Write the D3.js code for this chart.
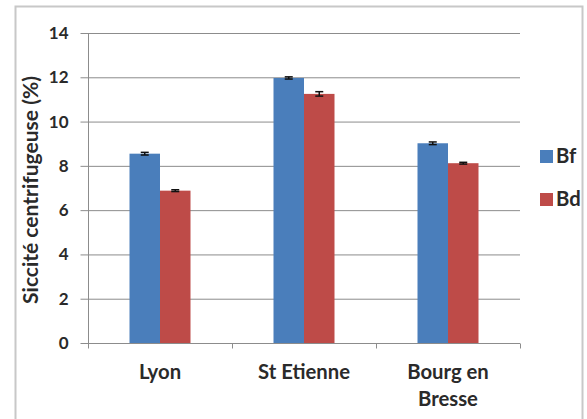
<!DOCTYPE html>
<html><head><meta charset="utf-8">
<script src="https://cdn.jsdelivr.net/npm/d3@7"></script>
<style>body{margin:0;background:#fff}svg{display:block}</style>
</head><body>
<svg id="c" width="587" height="419"></svg>
<script>
const categories = ["Lyon", "St Etienne", "Bourg en Bresse"];
const categoryLines = [["Lyon"], ["St Etienne"], ["Bourg en", "Bresse"]];
const seriesNames = ["Bf", "Bd"];
const bfValues = [8.55, 11.97, 9.02];
const bdValues = [6.88, 11.25, 8.12];
const bfErrors = [0.06, 0.05, 0.06];
const bdErrors = [0.04, 0.1, 0.04];
const yTicks = [0, 2, 4, 6, 8, 10, 12, 14];
const colors = ["#4a7ebb", "#be4b48"];

const svg = d3.select("#c");
const font = "Lato, 'Open Sans', sans-serif";
const txtCol = "#2a2a2a";
const m = {left: 88, right: 520, top: 33, bottom: 343};

// fit a text element's font size so that its width matches a target
function fit(sel, target) {
  sel.each(function() {
    const fs = parseFloat(this.getAttribute("font-size"));
    const w = this.getComputedTextLength();
    if (w > 0) this.setAttribute("font-size", (fs * target / w).toFixed(2));
  });
}

svg.append("rect").attr("x", 15.5).attr("y", 6.5).attr("width", 567).attr("height", 420)
  .attr("fill", "#fff").attr("stroke", "#c8c8c8").attr("stroke-width", 2);

const x = d3.scaleBand().domain(categories).range([m.left, m.right]);
const xs = d3.scaleBand().domain(seriesNames).range([0, 61]);
const y = d3.scaleLinear().domain([0, 14]).range([m.bottom, m.top]);

// gridlines
svg.append("g").selectAll("line").data(yTicks.filter(d => d > 0)).join("line")
  .attr("x1", m.left).attr("x2", m.right)
  .attr("y1", d => y(d) + 0.5).attr("y2", d => y(d) + 0.5)
  .attr("stroke", "#8c8c8c").attr("stroke-width", 1);

// y axis
const ya = svg.append("g").attr("transform", `translate(${m.left + 0.5},0)`)
  .call(d3.axisLeft(y).tickValues(yTicks).tickSize(8).tickPadding(12));
ya.select(".domain").attr("stroke", "#8c8c8c").attr("d", `M0,${m.top}V${m.bottom}`);
ya.selectAll(".tick line").attr("stroke", "#8c8c8c");
ya.selectAll("text").attr("font-family", font).attr("font-size", 17).attr("font-weight", "bold")
  .attr("fill", txtCol);

// bars
const data = categories.map((c, i) => [
  {cat: c, s: "Bf", v: bfValues[i], e: bfErrors[i], col: colors[0]},
  {cat: c, s: "Bd", v: bdValues[i], e: bdErrors[i], col: colors[1]}
]).flat();
const off = (x.bandwidth() - 61) / 2;
svg.append("g").selectAll("rect").data(data).join("rect")
  .attr("x", d => x(d.cat) + off + xs(d.s))
  .attr("width", xs.bandwidth())
  .attr("y", d => y(d.v)).attr("height", d => y(0) - y(d.v))
  .attr("fill", d => d.col);

// error bars
const eb = svg.append("g").selectAll("g").data(data).join("g");
eb.append("line")
  .attr("x1", d => x(d.cat) + off + xs(d.s) + xs.bandwidth() / 2)
  .attr("x2", d => x(d.cat) + off + xs(d.s) + xs.bandwidth() / 2)
  .attr("y1", d => y(d.v + d.e)).attr("y2", d => y(d.v - d.e))
  .attr("stroke", "#111").attr("stroke-width", 1.5);
eb.selectAll("line.cap").data(d => [d.v + d.e, d.v - d.e].map(v => ({d, v}))).join("line")
  .attr("class", "cap")
  .attr("x1", o => x(o.d.cat) + off + xs(o.d.s) + xs.bandwidth() / 2 - 4)
  .attr("x2", o => x(o.d.cat) + off + xs(o.d.s) + xs.bandwidth() / 2 + 4)
  .attr("y1", o => y(o.v)).attr("y2", o => y(o.v))
  .attr("stroke", "#111").attr("stroke-width", 1.5);

// x axis
const xa = svg.append("g").attr("transform", `translate(0,${m.bottom + 0.5})`);
xa.append("line").attr("x1", m.left).attr("x2", m.right).attr("stroke", "#8c8c8c");
const tickX = categories.map(c => x(c)).concat([m.right]);
xa.selectAll("line.t").data(tickX).join("line").attr("class", "t")
  .attr("x1", d => d + 0.5).attr("x2", d => d + 0.5).attr("y1", 0).attr("y2", 5)
  .attr("stroke", "#8c8c8c");
const lbl = svg.append("g").selectAll("text").data(categories).join("text")
  .attr("x", c => x(c) + x.bandwidth() / 2).attr("y", 379)
  .attr("text-anchor", "middle").attr("font-family", font).attr("font-size", 17)
  .attr("font-weight", "bold").attr("fill", txtCol);
lbl.selectAll("tspan").data((c, i) => categoryLines[i]).join("tspan")
  .attr("x", function() { return this.parentNode.getAttribute("x"); })
  .attr("dy", (d, i) => i === 0 ? 0 : 27).text(d => d);
// match label widths: "St Etienne" ~92px
const stE = lbl.filter(c => c === "St Etienne");
const w0 = stE.node().getComputedTextLength();
const lfs = (17 * 92 / w0).toFixed(2);
lbl.attr("font-size", lfs);

// y title
const yt = svg.append("text").attr("transform", "translate(38,190) rotate(-90)")
  .attr("text-anchor", "middle").attr("font-family", font).attr("font-size", 16)
  .attr("font-weight", "bold").attr("fill", txtCol).text("Siccité centrifugeuse (%)");
fit(yt, 228);

// legend
const lg = svg.append("g").selectAll("g").data(seriesNames).join("g")
  .attr("transform", (d, i) => `translate(540,${150 + i * 43})`);
lg.append("rect").attr("width", 13).attr("height", 13).attr("fill", (d, i) => colors[i]);
lg.append("text").attr("x", 16).attr("y", 12.5).attr("font-family", font).attr("font-size", lfs)
  .attr("font-weight", "bold").attr("fill", txtCol).text(d => d);
</script>
</body></html>
